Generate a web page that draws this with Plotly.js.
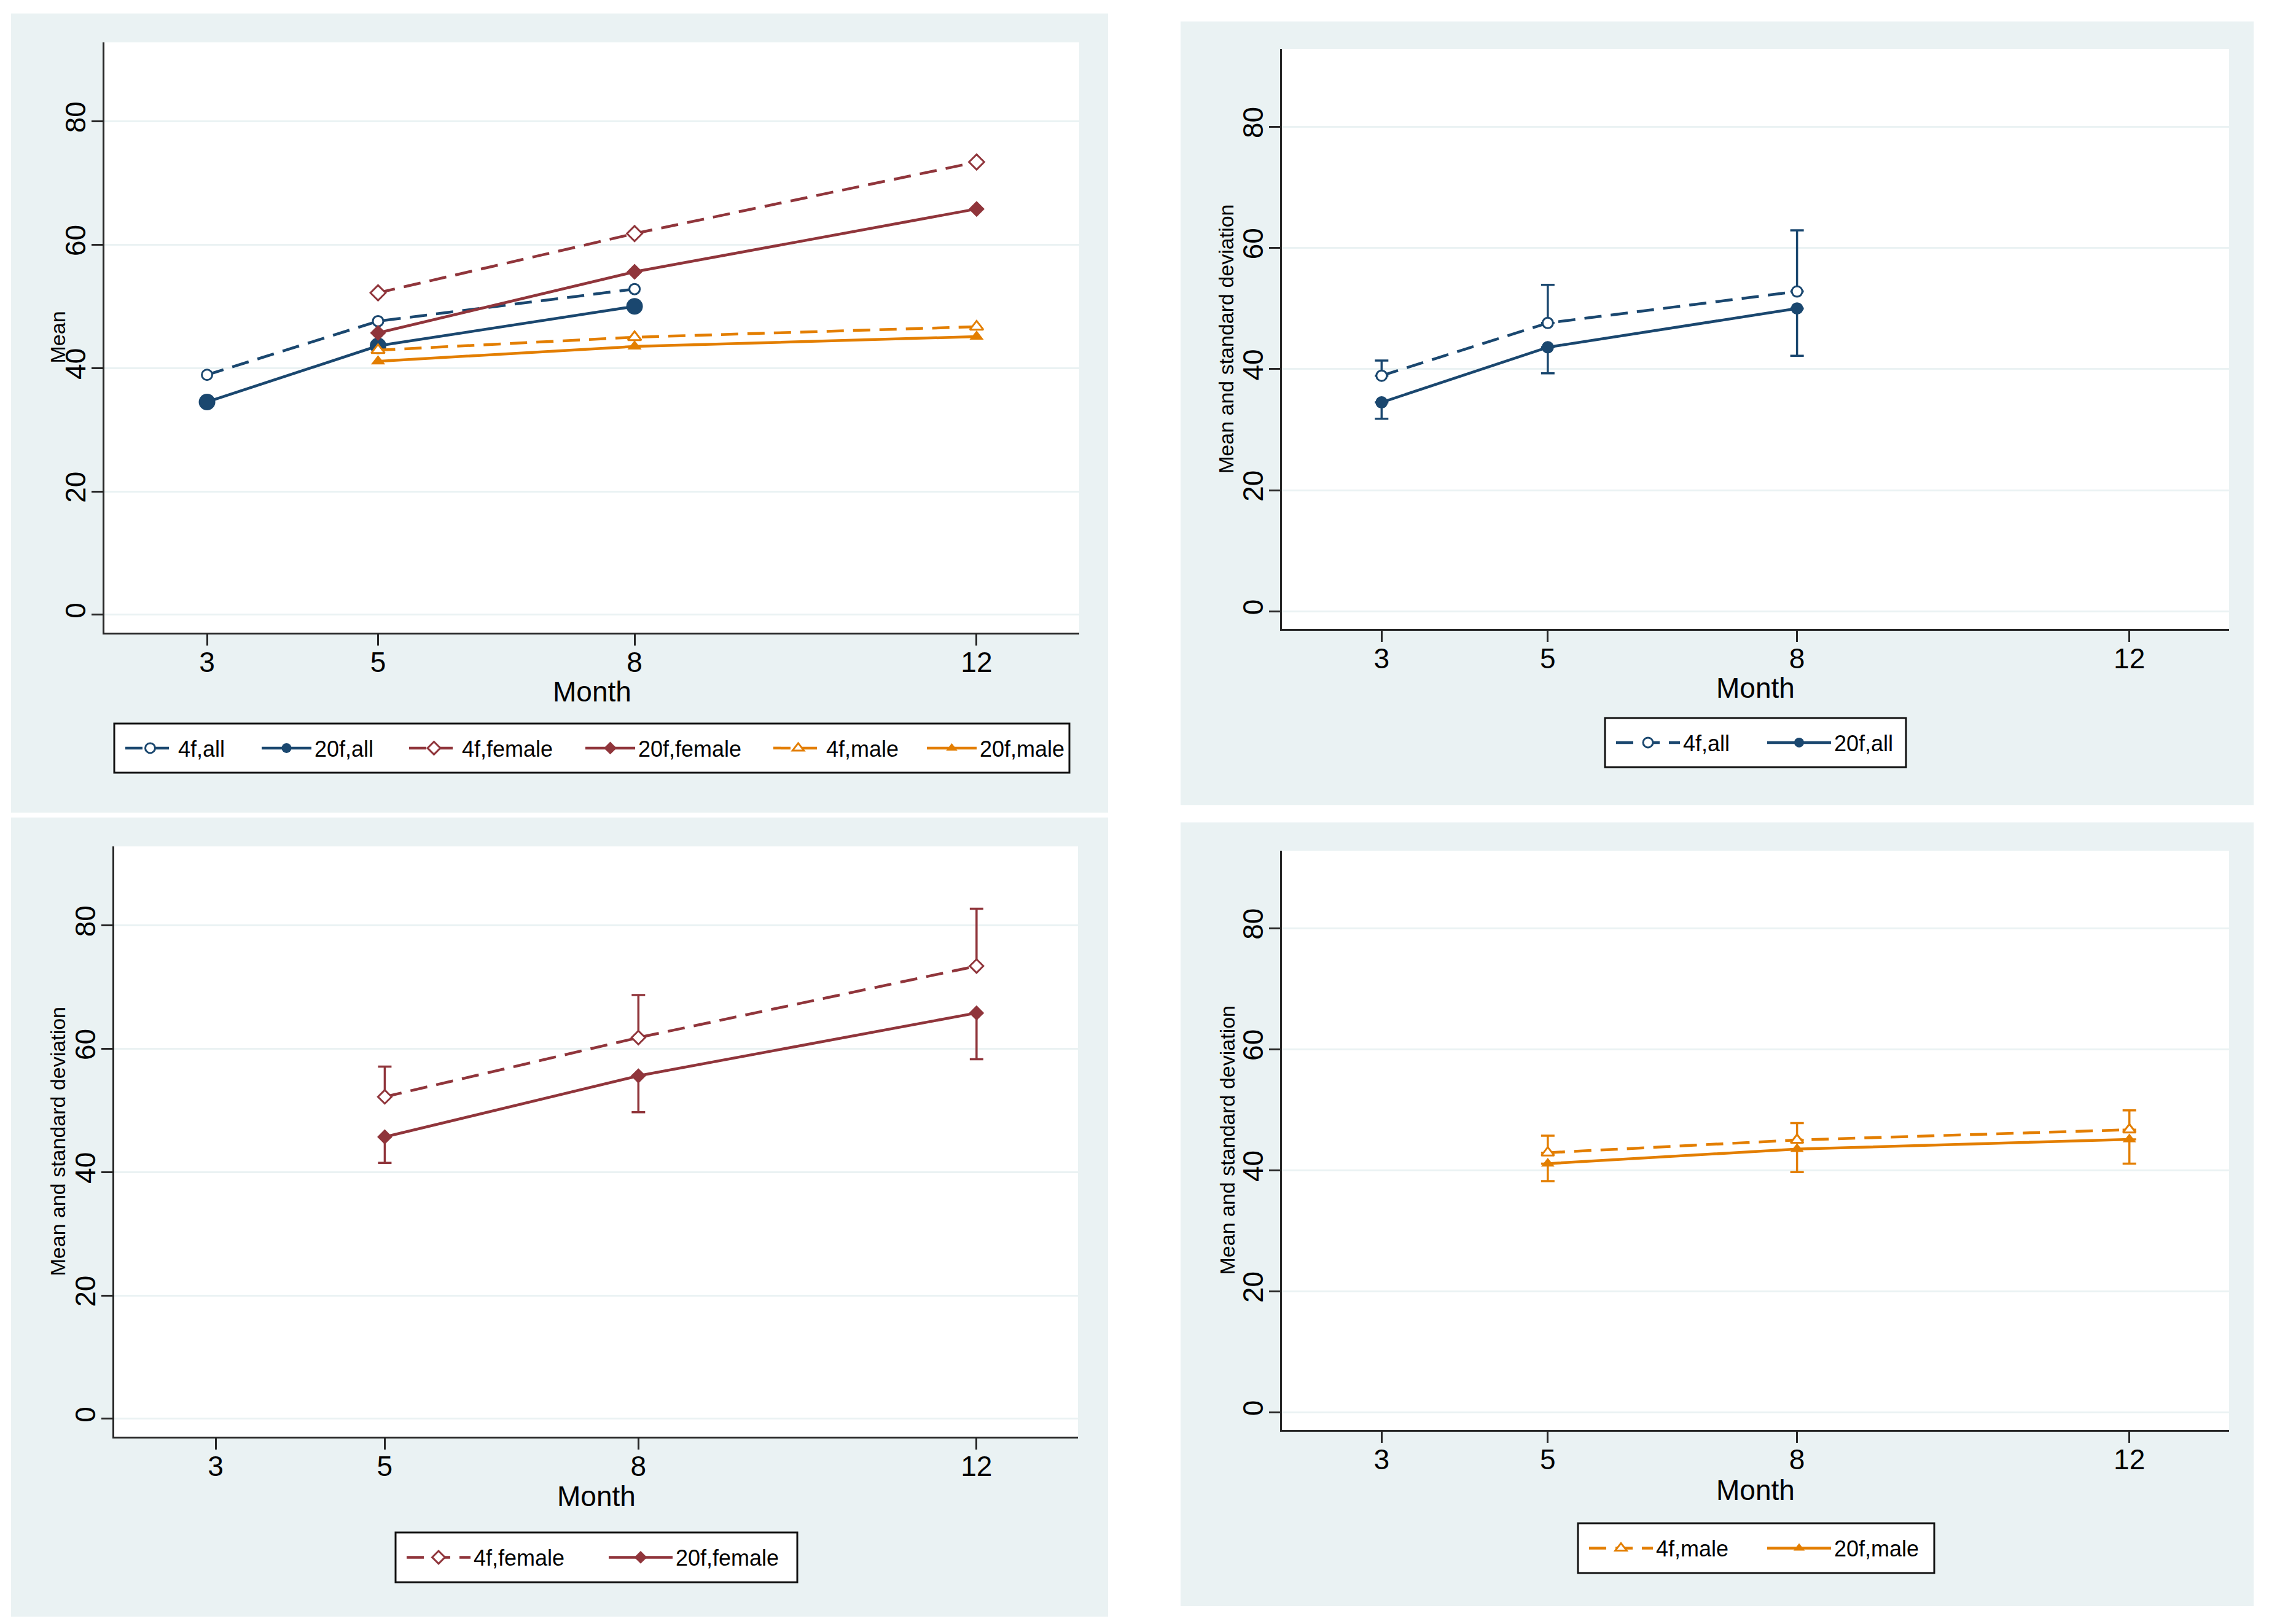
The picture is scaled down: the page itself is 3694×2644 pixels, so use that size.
<!DOCTYPE html>
<html>
<head>
<meta charset="utf-8">
<script src="https://cdn.plot.ly/plotly-3.0.1.min.js"></script>
<style>html,body{margin:0;padding:0;background:#fff;}#chart{width:3694px;height:2644px;}</style>
</head>
<body>
<div id="chart"></div>
<script>
// ---------------- data ----------------
const monthsAll = [3, 5, 8];
const monthsSex = [5, 8, 12];
const monthTicks = [3, 5, 8, 12];
const yTicks = [0, 20, 40, 60, 80];

const mean4fAll = [38.9, 47.6, 52.8];
const mean20fAll = [34.5, 43.6, 50.0];
const mean4fFemale = [52.2, 61.8, 73.4];
const mean20fFemale = [45.7, 55.6, 65.8];
const mean4fMale = [42.9, 45.0, 46.7];
const mean20fMale = [41.1, 43.5, 45.1];

const sd4fAll = [2.5, 6.3, 10.1];
const sd20fAll = [2.7, 4.3, 7.8];
const sd4fFemale = [4.9, 6.9, 9.3];
const sd20fFemale = [4.2, 5.9, 7.5];
const sd4fMale = [2.8, 2.8, 3.2];
const sd20fMale = [2.9, 3.8, 4.0];
const noBar = [0, 0, 0];

const names = ['4f,all', '20f,all', '4f,female', '20f,female', '4f,male', '20f,male'];
const yTitles = ['Mean', 'Mean and standard deviation', 'Mean and standard deviation', 'Mean and standard deviation'];
const xTitle = 'Month';

// ---------------- style ----------------
const W = 3694, H = 2644;
const FONT = 'Liberation Sans, Arial, Helvetica, sans-serif';
const NAVY = '#1A476F', MAROON = '#90353B', ORANGE = '#E37E00';
const BG = '#EAF2F3', AX = '#262626';
const DASH = '28px,15px';
const LW = 4.5;

// pixel boxes
const panels = [
  {bg: [18, 22, 1804, 1323], plot: [170, 69, 1757, 1030], ytx: 93, xty: 1126, leg: [186, 1178, 1741, 1258]},
  {bg: [1922, 35, 3669, 1311], plot: [2087, 80, 3629, 1024], ytx: 1996, xty: 1120, leg: [2613, 1169, 3103, 1249]},
  {bg: [18, 1331, 1804, 2632], plot: [186, 1378, 1755, 2339], ytx: 93, xty: 2436, leg: [644, 2495, 1298, 2576]},
  {bg: [1922, 1339, 3669, 2615], plot: [2087, 1385, 3629, 2328], ytx: 1997, xty: 2426, leg: [2569, 2480, 3149, 2561]}
];
const px = v => v / W;
const py = v => 1 - v / H;

function mk(name, x, y, sub, leg, color, dashed, symbol, size, filled, err, lw) {
  const t = {
    type: 'scatter', mode: 'lines+markers', name: name, x: x, y: y,
    xaxis: 'x' + (sub === 1 ? '' : sub), yaxis: 'y' + (sub === 1 ? '' : sub),
    legend: leg,
    line: {color: color, width: LW, dash: dashed ? DASH : 'solid'},
    marker: {symbol: symbol, size: size, color: filled ? color : '#ffffff',
             line: {color: color, width: filled ? 0 : 3}},
    legendwidth: lw,
    hoverinfo: 'x+y+name'
  };
  if (err) {
    t.error_y = {type: 'data', symmetric: false, array: err[0], arrayminus: err[1],
                 color: color, thickness: 3.5, width: 11};
  }
  return t;
}

const traces = [
  // panel 1
  mk(names[0], monthsAll, mean4fAll, 1, 'legend', NAVY, true, 'circle', 17, false, null, 113),
  mk(names[1], monthsAll, mean20fAll, 1, 'legend', NAVY, false, 'circle', 27, true, null, 131),
  mk(names[2], monthsSex, mean4fFemale, 1, 'legend', MAROON, true, 'diamond', 19, false, null, 178),
  mk(names[3], monthsSex, mean20fFemale, 1, 'legend', MAROON, false, 'diamond', 20, true, null, 197),
  mk(names[4], monthsSex, mean4fMale, 1, 'legend', ORANGE, true, 'triangle-up', 19, false, null, 141),
  mk(names[5], monthsSex, mean20fMale, 1, 'legend', ORANGE, false, 'triangle-up', 20, true, null, 145),
  // panel 2
  mk(names[0], monthsAll, mean4fAll, 2, 'legend2', NAVY, true, 'circle', 17, false, [sd4fAll, noBar], 114),
  mk(names[1], monthsAll, mean20fAll, 2, 'legend2', NAVY, false, 'circle', 20, true, [noBar, sd20fAll], 116),
  // panel 3
  mk(names[2], monthsSex, mean4fFemale, 3, 'legend3', MAROON, true, 'diamond', 17, false, [sd4fFemale, noBar], 197),
  mk(names[3], monthsSex, mean20fFemale, 3, 'legend3', MAROON, false, 'diamond', 19, true, [noBar, sd20fFemale], 194),
  // panel 4
  mk(names[4], monthsSex, mean4fMale, 4, 'legend4', ORANGE, true, 'triangle-up', 18, false, [sd4fMale, noBar], 158),
  mk(names[5], monthsSex, mean20fMale, 4, 'legend4', ORANGE, false, 'triangle-up', 19, true, [noBar, sd20fMale], 158)
];

function xAxis(p, anchor) {
  return {
    domain: [px(p.plot[0]), px(p.plot[2])], anchor: anchor,
    range: [1.8, 13.2], tickmode: 'array', tickvals: monthTicks, ticktext: monthTicks.map(String),
    showgrid: false, zeroline: false, showline: true, linecolor: AX, linewidth: 3,
    ticks: 'outside', ticklen: 18, tickwidth: 3, tickcolor: AX, ticklabelstandoff: -12,
    tickfont: {family: FONT, size: 46, color: '#000'}, fixedrange: true
  };
}
function yAxis(p, anchor) {
  return {
    domain: [py(p.plot[3]), py(p.plot[1])], anchor: anchor,
    range: [-2.9, 92.8], tickmode: 'array', tickvals: yTicks, ticktext: yTicks.map(String),
    tickangle: -90, ticklabelstandoff: -8,
    showgrid: true, gridcolor: BG, gridwidth: 3, zeroline: false,
    showline: true, linecolor: AX, linewidth: 3,
    ticks: 'outside', ticklen: 18, tickwidth: 3, tickcolor: AX,
    tickfont: {family: FONT, size: 46, color: '#000'}, fixedrange: true
  };
}

const shapes = [];
panels.forEach(p => {
  shapes.push({type: 'rect', xref: 'paper', yref: 'paper', layer: 'below',
    x0: px(p.bg[0]), x1: px(p.bg[2]), y0: py(p.bg[3]), y1: py(p.bg[1]),
    fillcolor: BG, line: {width: 0}});
  shapes.push({type: 'rect', xref: 'paper', yref: 'paper', layer: 'below',
    x0: px(p.plot[0]), x1: px(p.plot[2]), y0: py(p.plot[3]), y1: py(p.plot[1]),
    fillcolor: '#ffffff', line: {width: 0}});
  // legend frame
  shapes.push({type: 'rect', xref: 'paper', yref: 'paper', layer: 'below',
    x0: px(p.leg[0]), x1: px(p.leg[2]), y0: py(p.leg[3]), y1: py(p.leg[1]),
    fillcolor: '#ffffff', line: {width: 3, color: '#111111'}});
});

const annotations = [];
panels.forEach((p, i) => {
  annotations.push({xref: 'paper', yref: 'paper', x: px(p.ytx), y: py((p.plot[1] + p.plot[3]) / 2),
    text: yTitles[i], textangle: -90, showarrow: false, xanchor: 'center', yanchor: 'middle',
    font: {family: FONT, size: 34, color: '#000'}});
  annotations.push({xref: 'paper', yref: 'paper', x: px((p.plot[0] + p.plot[2]) / 2), y: py(p.xty),
    text: xTitle, showarrow: false, xanchor: 'center', yanchor: 'middle',
    font: {family: FONT, size: 46, color: '#000'}});
});

function legendCfg(box, itemwidth) {
  return {
    orientation: 'h', x: px(box[0]), y: py((box[1] + box[3]) / 2), xanchor: 'left', yanchor: 'middle',
    xref: 'paper', yref: 'paper',
    bgcolor: 'rgba(0,0,0,0)', borderwidth: 0,
    font: {family: FONT, size: 36, color: '#000'},
    itemwidth: itemwidth, indentation: 13, itemclick: false, itemdoubleclick: false
  };
}

const layout = {
  width: W, height: H,
  margin: {l: 0, r: 0, t: 0, b: 0, pad: 0},
  paper_bgcolor: '#ffffff', plot_bgcolor: '#ffffff',
  font: {family: FONT, size: 46, color: '#000'},
  showlegend: true,
  xaxis: xAxis(panels[0], 'y'), yaxis: yAxis(panels[0], 'x'),
  xaxis2: xAxis(panels[1], 'y2'), yaxis2: yAxis(panels[1], 'x2'),
  xaxis3: xAxis(panels[2], 'y3'), yaxis3: yAxis(panels[2], 'x3'),
  xaxis4: xAxis(panels[3], 'y4'), yaxis4: yAxis(panels[3], 'x4'),
  legend: legendCfg(panels[0].leg, 81),
  legend2: legendCfg(panels[1].leg, 104),
  legend3: legendCfg(panels[2].leg, 104),
  legend4: legendCfg(panels[3].leg, 104),
  shapes: shapes,
  annotations: annotations
};

Plotly.newPlot('chart', traces, layout, {displayModeBar: false, staticPlot: true});
</script>
</body>
</html>
